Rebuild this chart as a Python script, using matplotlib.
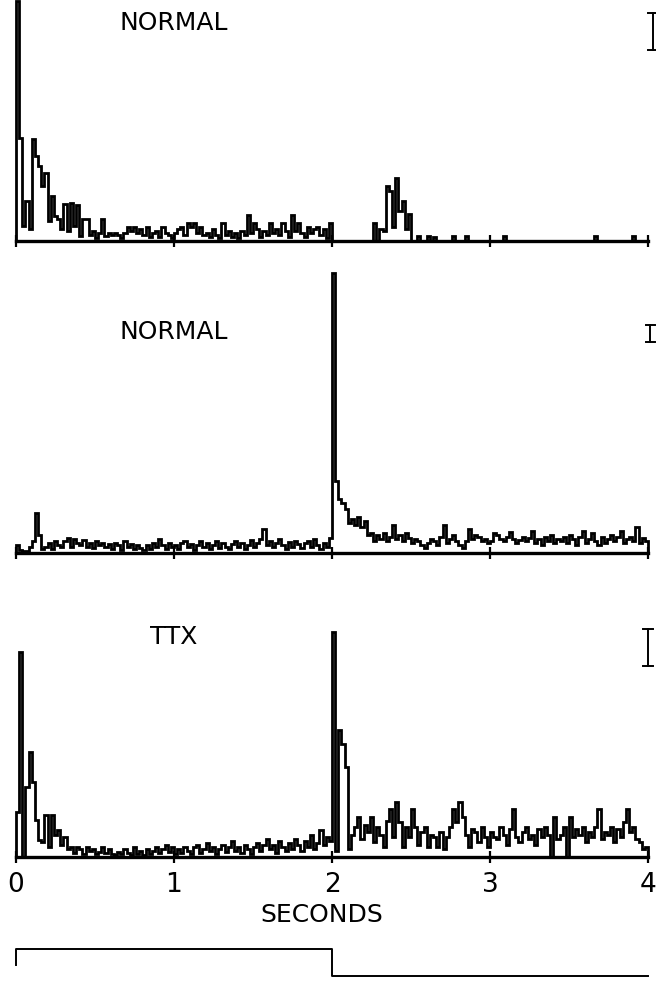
import matplotlib.pyplot as plt
import numpy as np

# PSTH bin heights, 20 ms bins from 0 to 4 s (arbitrary count units)
bin_edges = np.linspace(0, 4, 201)

normal_a = [
    240, 103, 15, 40, 12, 102, 85, 75, 55, 68,
    20, 45, 25, 22, 12, 37, 10, 38, 15, 36,
    5, 22, 22, 6, 10, 3, 8, 22, 5, 8,
    6, 8, 6, 3, 8, 14, 10, 14, 8, 12,
    6, 14, 4, 8, 10, 4, 14, 8, 6, 3,
    8, 12, 14, 6, 18, 14, 18, 8, 14, 6,
    8, 4, 12, 6, 3, 18, 6, 10, 4, 8,
    3, 10, 6, 26, 8, 18, 12, 4, 10, 6,
    18, 8, 12, 6, 18, 10, 4, 26, 10, 18,
    8, 4, 14, 8, 12, 14, 6, 12, 3, 18,
    0, 0, 0, 0, 0, 0, 0, 0, 0, 0,
    0, 0, 0, 18, 0, 12, 10, 55, 50, 14,
    63, 30, 40, 12, 27, 0, 0, 5, 0, 0,
    5, 0, 4, 0, 0, 0, 0, 0, 5, 0,
    0, 0, 5, 0, 0, 0, 0, 0, 0, 0,
    0, 0, 0, 0, 5, 0, 0, 0, 0, 0,
    0, 0, 0, 0, 0, 0, 0, 0, 0, 0,
    0, 0, 0, 0, 0, 0, 0, 0, 0, 0,
    0, 0, 0, 5, 0, 0, 0, 0, 0, 0,
    0, 0, 0, 0, 0, 5, 0, 0, 0, 0,
]

normal_b = [
    8, 3, 2, 2, 6, 12, 40, 18, 4, 6,
    10, 4, 12, 8, 6, 12, 15, 6, 14, 10,
    8, 13, 6, 10, 5, 12, 8, 10, 6, 9,
    4, 10, 8, 3, 12, 6, 9, 4, 8, 5,
    3, 8, 4, 10, 6, 14, 8, 4, 10, 6,
    8, 4, 10, 12, 6, 9, 3, 8, 12, 6,
    10, 4, 8, 12, 5, 10, 6, 4, 9, 12,
    6, 10, 4, 8, 13, 6, 10, 14, 24, 8,
    12, 6, 10, 14, 8, 4, 11, 6, 12, 9,
    5, 10, 12, 6, 14, 8, 4, 10, 6, 15,
    280, 72, 54, 50, 44, 30, 34, 28, 36, 26,
    32, 18, 20, 12, 18, 14, 20, 12, 16, 28,
    14, 18, 12, 20, 15, 10, 14, 12, 8, 5,
    10, 14, 12, 8, 16, 28, 10, 14, 18, 12,
    8, 5, 12, 24, 14, 18, 16, 12, 14, 10,
    12, 20, 18, 14, 12, 16, 21, 14, 10, 13,
    16, 12, 15, 22, 10, 14, 8, 16, 12, 18,
    10, 14, 12, 16, 10, 18, 14, 8, 16, 22,
    10, 14, 20, 12, 8, 16, 10, 14, 18, 12,
    16, 22, 10, 14, 16, 12, 26, 10, 15, 12,
]

ttx = [
    45, 205, 0, 70, 105, 75, 37, 17, 15, 42,
    10, 42, 22, 27, 12, 20, 8, 10, 4, 10,
    8, 3, 10, 6, 8, 3, 5, 10, 4, 8,
    3, 2, 5, 3, 8, 4, 2, 10, 3, 6,
    2, 8, 3, 6, 10, 4, 8, 12, 5, 10,
    3, 8, 4, 10, 6, 3, 10, 12, 4, 8,
    14, 6, 10, 3, 8, 12, 5, 10, 16, 6,
    10, 4, 12, 8, 3, 10, 14, 6, 12, 18,
    8, 12, 4, 16, 10, 6, 14, 8, 18, 12,
    6, 16, 10, 22, 8, 14, 27, 12, 20, 16,
    225, 6, 127, 113, 90, 8, 22, 30, 40, 18,
    32, 25, 40, 15, 30, 22, 10, 36, 48, 20,
    55, 35, 10, 30, 20, 48, 30, 12, 25, 30,
    10, 22, 20, 10, 25, 8, 20, 30, 48, 35,
    55, 40, 22, 10, 28, 25, 15, 30, 20, 10,
    25, 20, 18, 30, 22, 12, 28, 48, 20, 15,
    25, 30, 18, 22, 12, 28, 20, 30, 22, 0,
    40, 18, 22, 30, 0, 40, 20, 28, 22, 30,
    15, 25, 20, 30, 48, 18, 25, 22, 30, 15,
    28, 20, 35, 48, 25, 30, 18, 15, 8, 10,
]

panel_labels = ['NORMAL', 'NORMAL', 'TTX']
scale_bars = [37, 17, 37]
tick_values = [0, 1, 2, 3, 4]

# stimulus trace under the histograms
stim_t = [0, 0, 2, 2, 4]
stim_v = [0.4, 1, 1, 0, 0]

W, H = 656, 981
fig = plt.figure(figsize=(W / 100, H / 100), dpi=100)
x0, x1 = 16, 648

# (baseline pixel row, axis height in pixels, caption row)
panel_rows = [(241, 241, 23), (553, 285, 332), (857, 232, 637)]
series = [normal_a, normal_b, ttx]
bar_x = [4.03, 4.015, 4.0]

for k, (vals, (base, hgt, cap_row)) in enumerate(zip(series, panel_rows)):
    ax = fig.add_axes([x0 / W, (H - base) / H, (x1 - x0) / W, hgt / H])
    ax.stairs(vals, bin_edges, color='black', linewidth=2.0, baseline=0,
              clip_on=False)
    ax.set_xlim(0, 4)
    ax.set_ylim(0, hgt)
    for side in ('top', 'right', 'left'):
        ax.spines[side].set_visible(False)
    ax.spines['bottom'].set_linewidth(2.4)
    ax.set_yticks([])
    ax.set_xticks(tick_values)
    ax.tick_params(axis='x', direction='inout', length=9, width=1.6,
                   pad=6, labelsize=19)
    if k < 2:
        ax.set_xticklabels([])
    # panel caption
    ax.text(1.0, base - cap_row, panel_labels[k], ha='center', va='center',
            fontsize=18)
    # calibration bar
    bx = bar_x[k]
    top = 228
    bot = top - scale_bars[k]
    cap = 0.03
    ax.plot([bx, bx], [bot, top], color='black', lw=1.4, clip_on=False)
    ax.plot([bx - cap, bx + cap], [top, top], color='black', lw=1.4, clip_on=False)
    ax.plot([bx - cap, bx + cap], [bot, bot], color='black', lw=1.4, clip_on=False)

fig.text(322 / W, 1 - 915 / H, 'SECONDS', ha='center', va='center', fontsize=18)

# stimulus step: level 1 at row 949, level 0 at row 976
sax = fig.add_axes([x0 / W, (H - 976) / H, (x1 - x0) / W, 27 / H])
sax.plot(stim_t, stim_v, color='black', lw=1.4, clip_on=False)
sax.set_xlim(0, 4)
sax.set_ylim(0, 1)
sax.axis('off')

fig.savefig('out.png', dpi=100)
